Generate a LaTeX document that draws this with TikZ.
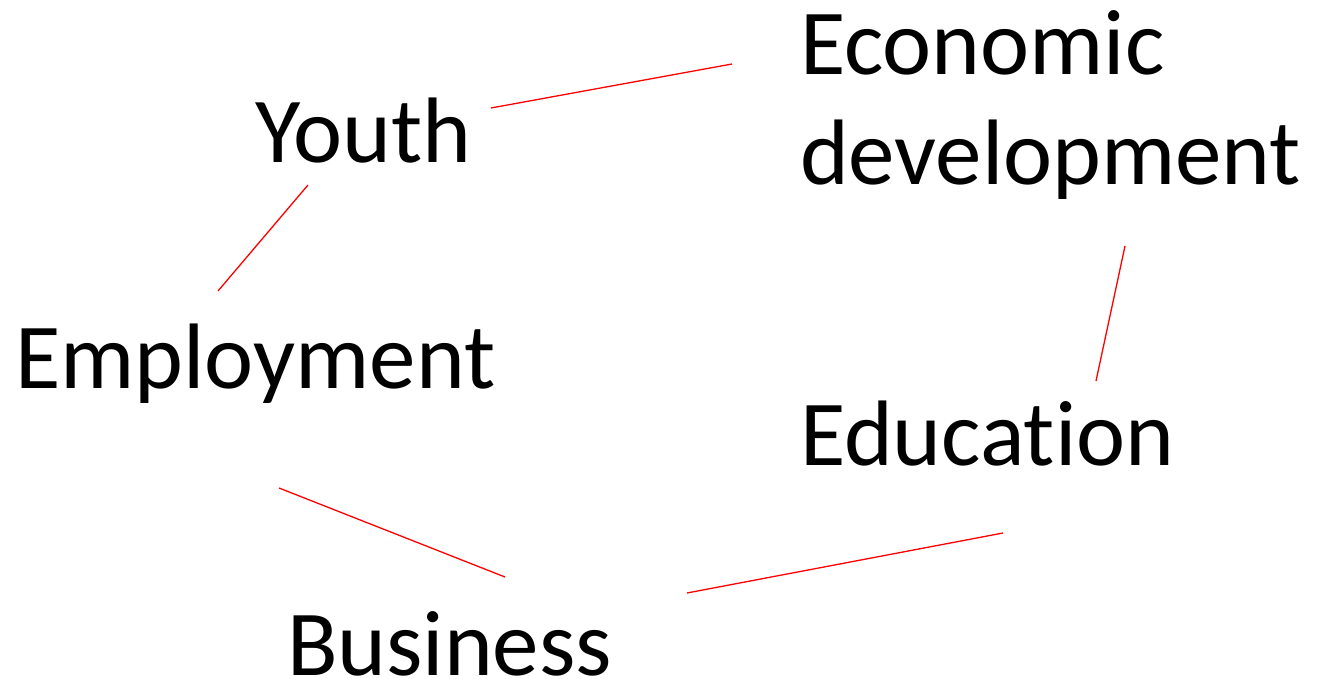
\documentclass[tikz,border=0pt]{standalone}
\usepackage{fontspec}
\setmainfont{Carlito}[Ligatures={NoCommon}]
\begin{document}
\begin{tikzpicture}[x=1pt,y=-1pt,
  word/.style={anchor=base west,inner sep=0pt,outer sep=0pt,
    font=\fontsize{93}{110}\selectfont,text=black},
  link/.style={draw=red,line width=1.3pt}]
  \useasboundingbox (0,0) rectangle (1317,679);
  % terms (a two-line node sits on the baseline of its last line)
  \node[word] (youth) at (255,163) {Youth};
  \node[word,align=left] (econ) at (800,185) {Economic\\development};
  \node[word] (employ) at (15,388) {Employment};
  \node[word] (edu) at (800,465) {Education};
  \node[word] (biz) at (287,675) {Business};
  % ends of the links between the terms
  \coordinate (yE) at (491,108);
  \coordinate (eW) at (732,64);
  \coordinate (yS) at (308,185);
  \coordinate (mN) at (218,291);
  \coordinate (eS) at (1125,246);
  \coordinate (dN) at (1096,381);
  \coordinate (mS) at (279,488);
  \coordinate (bW) at (505,577);
  \coordinate (bE) at (687,593);
  \coordinate (dS) at (1003,533);
  % links
  \draw[link] (yE) -- (eW);
  \draw[link] (yS) -- (mN);
  \draw[link] (eS) -- (dN);
  \draw[link] (mS) -- (bW);
  \draw[link] (bE) -- (dS);
\end{tikzpicture}
\end{document}
